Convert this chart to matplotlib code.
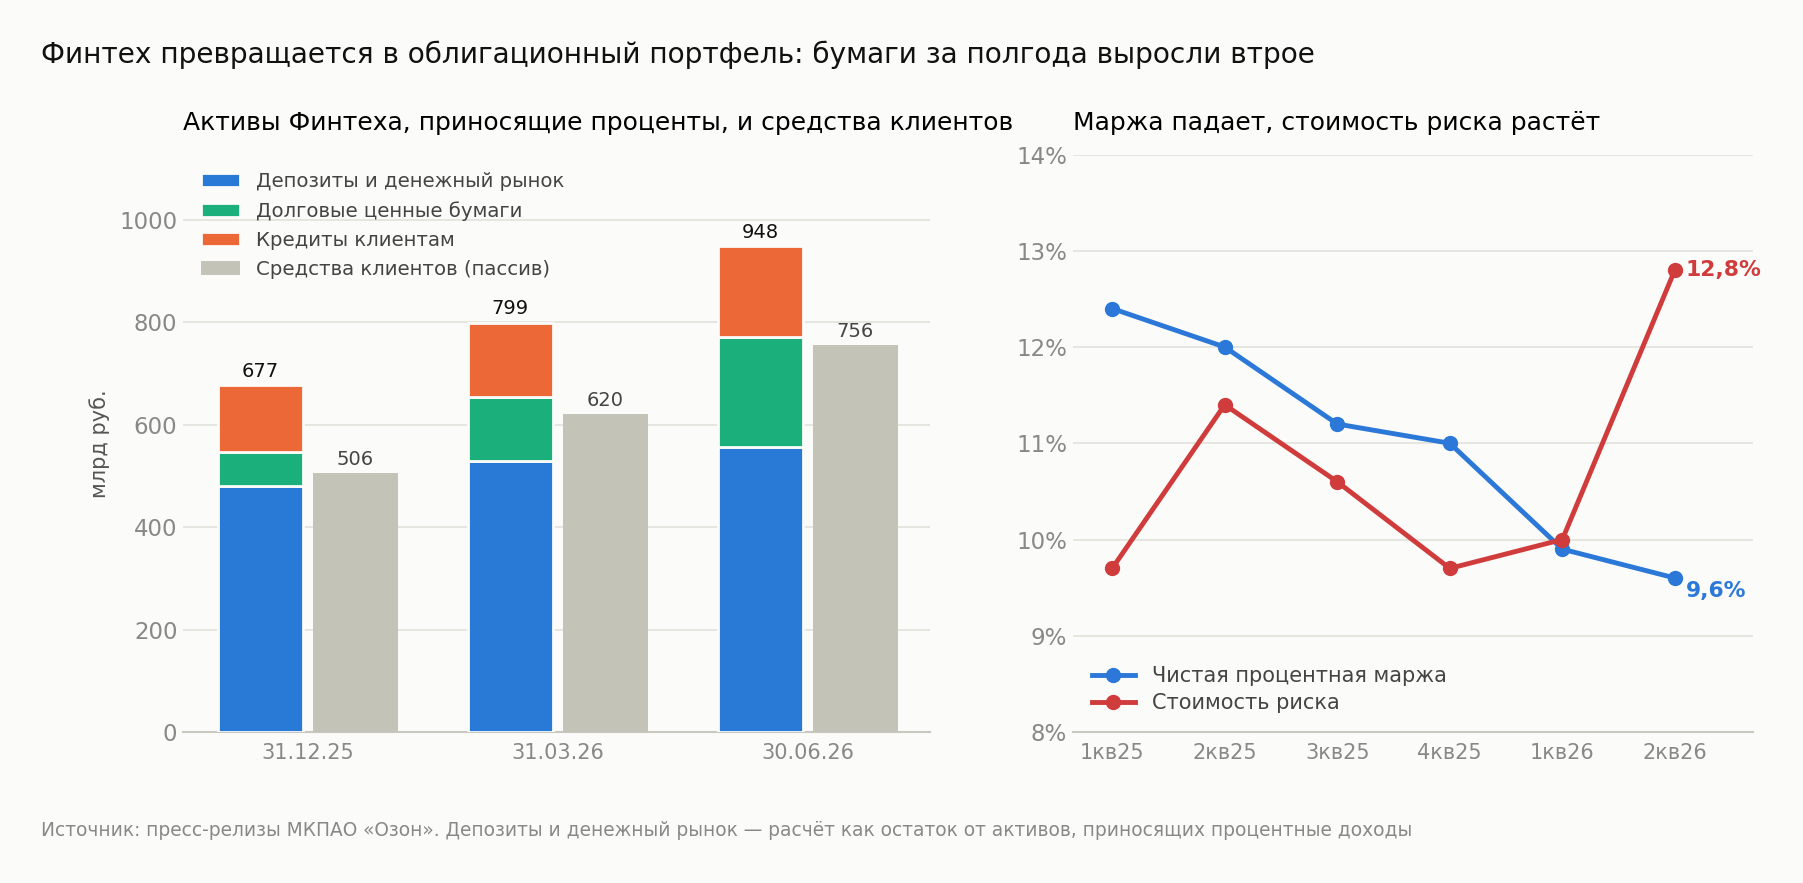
import matplotlib.pyplot as plt
import numpy as np

# данные
даты = ['31.12.25', '31.03.26', '30.06.26']
депозиты = [481, 528, 556]
облигации = [65, 126, 215]
кредиты = [131, 145, 177]
итого_активы = [677, 799, 948]
средства_клиентов = [506, 620, 756]

кварталы = ['1кв25', '2кв25', '3кв25', '4кв25', '1кв26', '2кв26']
маржа = [12.4, 12.0, 11.2, 11.0, 9.9, 9.6]
стоимость_риска = [9.7, 11.4, 10.6, 9.7, 10.0, 12.8]

фон = '#fbfbf9'
синий = '#2979d6'
зеленый = '#1bb07b'
оранжевый = '#ec6836'
серый = '#c3c3b8'
красный = '#d03c3c'
синий_линия = '#2b78d8'

plt.rcParams['font.family'] = ['DejaVu Sans']

fig = plt.figure(figsize=(18.03, 8.83), dpi=100, facecolor=фон)
ax1 = fig.add_axes([0.1015, 0.171, 0.4145, 0.654], facecolor=фон)
ax2 = fig.add_axes([0.595, 0.171, 0.377, 0.654], facecolor=фон)

x = np.arange(len(даты))
w = 0.34
off = 0.19
xs = x - off
ax1.bar(xs, депозиты, w, color=синий, edgecolor=фон, linewidth=2, label='Депозиты и денежный рынок', zorder=3)
ax1.bar(xs, облигации, w, bottom=депозиты, color=зеленый, edgecolor=фон, linewidth=2,
        label='Долговые ценные бумаги', zorder=3)
низ = np.array(депозиты) + np.array(облигации)
ax1.bar(xs, кредиты, w, bottom=низ, color=оранжевый, edgecolor=фон, linewidth=2,
        label='Кредиты клиентам', zorder=3)
ax1.bar(x + off, средства_клиентов, w, color=серый, label='Средства клиентов (пассив)', zorder=3)

for i in range(len(даты)):
    ax1.text(xs[i], итого_активы[i] + 8, str(итого_активы[i]), ha='center', va='bottom',
             fontsize=14, color='#111111')
    ax1.text(x[i] + off, средства_клиентов[i] + 8, str(средства_клиентов[i]), ha='center', va='bottom',
             fontsize=14, color='#444444')

ax1.set_xlim(-0.5, 2.49)
ax1.set_ylim(0, 1127)
ax1.set_yticks([0, 200, 400, 600, 800, 1000])
ax1.set_xticks(x)
ax1.set_xticklabels(даты)
ax1.set_ylabel('млрд руб.', fontsize=15, color='#555555', labelpad=7)
ax1.set_title('Активы Финтеха, приносящие проценты, и средства клиентов', loc='left',
              fontsize=18, pad=18)
ax1.legend(loc='upper left', bbox_to_anchor=(0.0, 1.0), frameon=False, fontsize=14.2,
           labelcolor='#444444', handlelength=2.0, labelspacing=0.5)

ax2.plot(кварталы, маржа, color=синий_линия, lw=3.5, marker='o', ms=10,
         label='Чистая процентная маржа', zorder=3)
ax2.plot(кварталы, стоимость_риска, color=красный, lw=3.5, marker='o', ms=10,
         label='Стоимость риска', zorder=3)
ax2.annotate('12,8%', (5, стоимость_риска[-1]), xytext=(8, 0), textcoords='offset points',
             ha='left', va='center', fontsize=15.7, fontweight='bold', color=красный)
ax2.annotate('9,6%', (5, маржа[-1]), xytext=(8, -9), textcoords='offset points',
             ha='left', va='center', fontsize=15.7, fontweight='bold', color=синий_линия)
ax2.set_xlim(-0.35, 5.69)
ax2.set_ylim(8, 14)
ax2.set_yticks(range(8, 15))
ax2.set_yticklabels([f'{v}%' for v in range(8, 15)])
ax2.set_title('Маржа падает, стоимость риска растёт', loc='left', fontsize=18, pad=18)
ax2.legend(loc='lower left', bbox_to_anchor=(0.0, 0.0), frameon=False, fontsize=15,
           labelcolor='#444444', handlelength=2.1, labelspacing=0.35)

for ax in (ax1, ax2):
    for s in ('top', 'right', 'left'):
        ax.spines[s].set_visible(False)
    ax.spines['bottom'].set_color('#c8c8c0')
    ax.spines['bottom'].set_linewidth(1.5)
    ax.grid(axis='y', color='#e2e2dc', lw=1.2, zorder=0)
    ax.set_axisbelow(True)
    ax.tick_params(axis='both', length=0, colors='#888888')
    ax.tick_params(axis='y', labelsize=16.5, pad=4)
    ax.tick_params(axis='x', labelsize=15, pad=8)

fig.text(0.023, 0.938, 'Финтех превращается в облигационный портфель: бумаги за полгода выросли втрое',
         ha='left', va='center', fontsize=20.2, color='#111111')
fig.text(0.023, 0.06, 'Источник: пресс-релизы МКПАО «Озон». Депозиты и денежный рынок — расчёт как остаток '
         'от активов, приносящих процентные доходы', ha='left', va='center', fontsize=13.4, color='#888888')

fig.savefig('out.png', dpi=100, facecolor=фон)
